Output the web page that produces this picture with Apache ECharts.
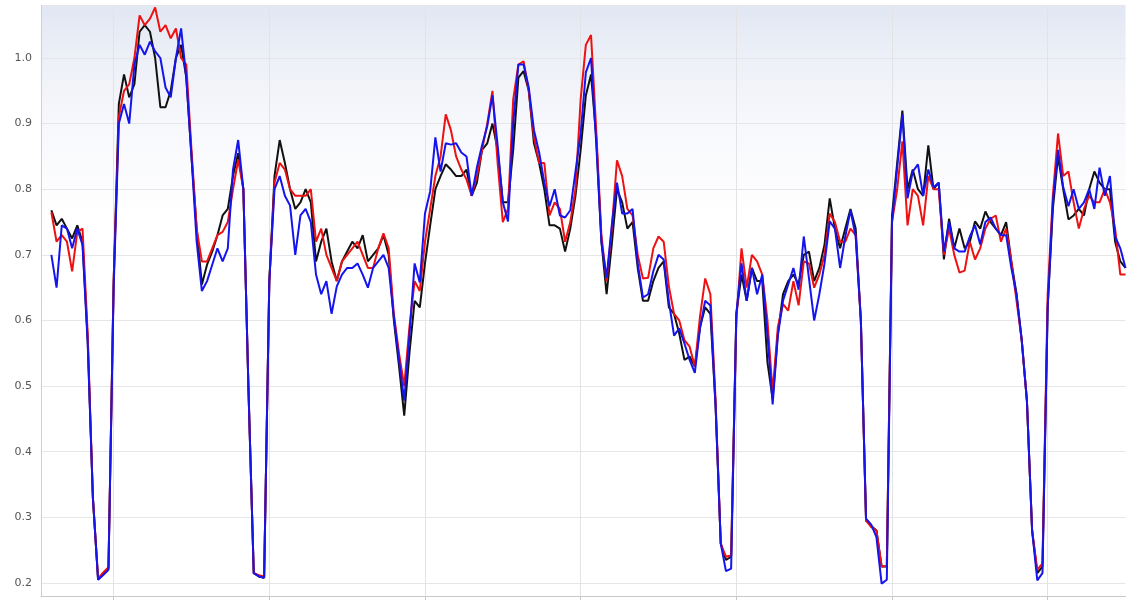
<!DOCTYPE html>
<html>
<head>
<meta charset="utf-8">
<title>Line chart</title>
<script src="https://cdn.jsdelivr.net/npm/echarts@6/dist/echarts.min.js"></script>
<style>
  html, body { margin: 0; padding: 0; background: #ffffff; }
  #chart { width: 1128px; height: 600px; }
</style>
</head>
<body>
<div id="chart"></div>
<script>
// Sample steps along the horizontal axis (labels are not displayed)
const stepCount = 210;
const steps = Array.from({ length: stepCount }, (_, i) => String(i));

// Positions of the vertical reference lines (every 30 steps starting at step 14)
const gridStart = 14;
const gridEvery = 30;

// Series values, one per step (null = no reading yet)
const seriesBlack = [
  null, null, .768, .745, .755, .74, .725, .745, .72, .57,
  .33, .205, .214, .222, .66, .93, .975, .94, .96, 1.04,
  1.05, 1.04, 1.0, .925, .925, .95, 1.0, 1.02, .97, .85,
  .74, .655, .685, .705, .73, .76, .77, .82, .855, .80,
  .49, .215, .21, .208, .66, .82, .875, .84, .80, .77,
  .78, .80, .78, .69, .72, .74, .69, .66, .69, .705,
  .72, .71, .73, .69, .70, .71, .73, .70, .60, .53,
  .455, .55, .63, .62, .687, .745, .80, .82, .838, .83,
  .82, .82, .83, .79, .81, .86, .87, .90, .86, .78,
  .78, .86, .97, .98, .95, .87, .84, .80, .745, .745,
  .74, .705, .74, .79, .86, .943, .975, .88, .72, .64,
  .716, .80, .78, .74, .75, .68, .63, .63, .66, .68,
  .69, .62, .61, .58, .54, .545, .53, .59, .62, .61,
  .47, .26, .235, .24, .61, .67, .63, .68, .66, .66,
  .536, .48, .58, .64, .66, .67, .655, .70, .705, .66,
  .68, .716, .786, .74, .71, .74, .77, .74, .60, .295,
  .287, .28, .225, .225, .76, .84, .92, .80, .83, .80,
  .79, .867, .80, .81, .693, .755, .71, .74, .71, .72,
  .751, .74, .766, .75, .74, .73, .75, .69, .64, .57,
  .478, .28, .215, .225, .62, .77, .85, .80, .754, .76,
  .77, .76, .80, .827, .81, .80, .80, .72, .69, .68
];

const seriesRed = [
  null, null, .765, .72, .73, .72, .675, .735, .74, .58,
  .33, .207, .216, .224, .66, .91, .95, .96, 1.0, 1.065,
  1.05, 1.06, 1.077, 1.04, 1.05, 1.03, 1.045, 1.0, .99, .86,
  .74, .69, .69, .71, .73, .735, .75, .80, .845, .80,
  .49, .215, .212, .21, .66, .81, .84, .83, .80, .79,
  .79, .79, .80, .72, .74, .70, .68, .66, .69, .70,
  .71, .72, .70, .68, .68, .71, .733, .71, .61, .55,
  .50, .59, .66, .645, .72, .77, .82, .85, .914, .89,
  .85, .83, .815, .79, .82, .86, .90, .95, .84, .75,
  .77, .937, .99, .995, .95, .88, .84, .84, .76, .78,
  .77, .72, .75, .80, .937, 1.02, 1.035, .89, .73, .66,
  .74, .844, .82, .77, .76, .70, .664, .665, .71, .728,
  .72, .652, .61, .60, .57, .56, .53, .606, .664, .64,
  .48, .26, .24, .242, .60, .71, .65, .70, .69, .67,
  .60, .49, .59, .625, .615, .66, .623, .69, .687, .65,
  .67, .70, .763, .75, .72, .72, .74, .73, .60, .295,
  .285, .28, .225, .226, .75, .80, .873, .745, .80, .79,
  .745, .82, .80, .80, .70, .74, .70, .673, .676, .72,
  .693, .71, .74, .755, .76, .72, .74, .69, .63, .57,
  .478, .28, .22, .23, .64, .79, .885, .82, .827, .78,
  .74, .77, .79, .78, .78, .80, .78, .74, .67, .67
];

const seriesBlue = [
  null, null, .70, .65, .745, .74, .71, .74, .715, .565,
  .33, .205, .212, .22, .65, .90, .93, .90, .99, 1.02,
  1.005, 1.025, 1.01, 1.0, .955, .94, 1.0, 1.045, .97, .85,
  .72, .645, .66, .685, .71, .69, .71, .83, .875, .80,
  .49, .215, .21, .208, .66, .80, .82, .79, .775, .70,
  .76, .77, .75, .67, .64, .66, .61, .652, .67, .68,
  .68, .687, .67, .65, .68, .69, .70, .68, .605, .54,
  .478, .577, .687, .658, .763, .797, .879, .827, .87, .868,
  .87, .856, .85, .79, .833, .867, .896, .943, .867, .78,
  .751, .90, .99, .99, .955, .89, .856, .81, .774, .80,
  .76, .757, .768, .827, .885, .978, 1.0, .87, .72, .665,
  .745, .81, .763, .763, .77, .687, .635, .64, .675, .70,
  .693, .629, .577, .588, .565, .54, .52, .588, .63, .623,
  .47, .26, .218, .222, .61, .687, .63, .68, .64, .67,
  .577, .472, .577, .63, .655, .68, .647, .728, .664, .60,
  .64, .687, .751, .74, .68, .728, .768, .728, .60, .298,
  .289, .27, .199, .205, .75, .833, .914, .786, .827, .838,
  .79, .83, .803, .81, .705, .75, .71, .705, .705, .728,
  .745, .716, .75, .757, .74, .73, .73, .68, .64, .57,
  .478, .28, .204, .215, .62, .78, .86, .803, .774, .80,
  .77, .78, .80, .77, .833, .79, .82, .728, .71, .68
];

// Value axis range and tick step
const yMin = 0.18;
const yMax = 1.08;
const ySplits = 9;

const chart = echarts.init(document.getElementById('chart'), null, { renderer: 'canvas' });

const isGridStep = (index) => index >= gridStart && (index - gridStart) % gridEvery === 0;

const makeLine = (name, values, color) => ({
  name: name,
  type: 'line',
  data: values,
  symbol: 'none',
  connectNulls: false,
  lineStyle: { color: color, width: 2 },
  itemStyle: { color: color },
  emphasis: { disabled: true }
});

chart.setOption({
  animation: false,
  backgroundColor: '#ffffff',
  grid: {
    left: 41,
    right: 2.5,
    top: 5.5,
    bottom: 3.9,
    show: true,
    borderWidth: 0,
    backgroundColor: new echarts.graphic.LinearGradient(0, 0, 0, 1, [
      { offset: 0, color: '#e1e7f3' },
      { offset: 0.09, color: '#edf0f7' },
      { offset: 0.2, color: '#f7f8fc' },
      { offset: 0.36, color: '#ffffff' },
      { offset: 1, color: '#ffffff' }
    ]),
    containLabel: false
  },
  xAxis: {
    type: 'category',
    data: steps,
    boundaryGap: false,
    axisLine: { show: true, lineStyle: { color: '#c8c8c8', width: 1 } },
    axisTick: { show: true, interval: isGridStep, length: 5, lineStyle: { color: '#c8c8c8' } },
    axisLabel: { show: false },
    splitLine: { show: true, interval: isGridStep, lineStyle: { color: '#e3e3e6', width: 1 } }
  },
  yAxis: {
    type: 'value',
    min: yMin,
    max: yMax,
    splitNumber: ySplits,
    axisLine: { show: true, lineStyle: { color: '#cfcfcf', width: 1 } },
    axisTick: { show: false },
    axisLabel: {
      showMinLabel: false,
      showMaxLabel: false,
      color: '#555555',
      fontSize: 11,
      fontFamily: 'DejaVu Sans, Verdana, sans-serif',
      margin: 9,
      formatter: (v) => v.toFixed(1)
    },
    splitLine: { show: true, lineStyle: { color: '#e6e6e8', width: 1 } }
  },
  series: [
    makeLine('black', seriesBlack, '#111111'),
    makeLine('red', seriesRed, '#ee1111'),
    makeLine('blue', seriesBlue, '#1414ee')
  ]
});
</script>
</body>
</html>
